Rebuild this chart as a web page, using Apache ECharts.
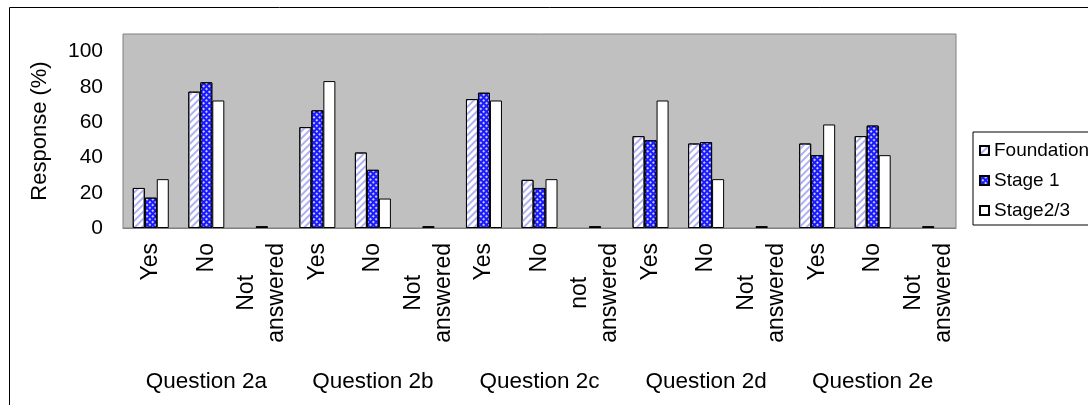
<!DOCTYPE html>
<html>
<head>
<meta charset="utf-8">
<script src="https://cdn.jsdelivr.net/npm/echarts@6/dist/echarts.min.js"></script>
<style>html,body{margin:0;padding:0;background:#fff;}#c{width:1088px;height:405px;}</style>
</head>
<body>
<div id="c"></div>
<script>
var categories = ['Yes','No','Not\nanswered','Yes','No','Not\nanswered','Yes','No','not\nanswered','Yes','No','Not\nanswered','Yes','No','Not\nanswered'];
var groups = ['Question 2a','Question 2b','Question 2c','Question 2d','Question 2e'];
var seriesNames = ['Foundation','Stage 1','Stage2/3'];
var foundation = [22.7,77.3,0, 57.2,42.8,0, 73.1,27.3,0, 52.1,47.9,0, 47.9,52.1,0];
var stage1 = [17.2,82.6,1, 66.7,33.0,1, 76.7,22.7,1, 49.8,48.7,1, 41.3,58.1,1];
var stage23 = [27.7,72.3,0, 83.3,16.7,0, 72.3,27.7,0, 72.3,27.7,0, 58.7,41.3,0];
var yTicks = [0,20,40,60,80,100];

function noZero(arr){ return arr.map(function(v){ return v === 0 ? '-' : v; }); }

var FONT = 'Liberation Sans, Arial, sans-serif';
var chart = echarts.init(document.getElementById('c'), null, {renderer:'canvas'});
var border = {borderColor:'#000', borderWidth:1};
chart.setOption({
  animation:false,
  textStyle:{fontFamily:FONT, color:'#000'},
  graphic:[{type:'rect', shape:{x:9.5,y:7.5,width:1200,height:600}, style:{fill:null, stroke:'#000', lineWidth:1}, silent:true, z:-10}],
  grid:{left:123, right:132, top:34, bottom:177, show:true, backgroundColor:'#c0c0c0', borderColor:'#808080', borderWidth:1},
  legend:{
    orient:'vertical', left:973, top:132, itemWidth:9, itemHeight:9, itemGap:11, icon:'rect',
    padding:[9,40,5,6], borderColor:'#000', borderWidth:1, backgroundColor:'#fff',
    textStyle:{fontSize:19, fontFamily:FONT, color:'#000'},
    data:seriesNames
  },
  xAxis:[{
    type:'category', data:categories, boundaryGap:true,
    axisLine:{show:true, lineStyle:{color:'#808080'}}, axisTick:{show:false},
    axisLabel:{interval:0, rotate:90, margin:15, fontSize:23, fontFamily:FONT, color:'#000',
      formatter:function(v){ return v.indexOf('\n')>=0 ? v.split('\n').map(function(s){return '{c|'+s+'}';}).join('\n') : v; },
      rich:{c:{align:'center', fontSize:23, fontFamily:FONT, color:'#000', lineHeight:30}}
    }
  },{
    type:'category', data:groups, position:'bottom', offset:132, gridIndex:0,
    axisLine:{show:false}, axisTick:{show:false},
    axisLabel:{interval:0, margin:10, fontSize:22.5, fontFamily:FONT, color:'#000'}
  }],
  yAxis:{
    type:'value', min:0, max:110, interval:20,
    name:'Response (%)', nameLocation:'middle', nameGap:72, nameRotate:90,
    nameTextStyle:{fontSize:22, fontFamily:FONT, color:'#000'},
    axisLine:{show:false}, axisTick:{show:false}, splitLine:{show:false},
    axisLabel:{margin:20, fontSize:21, fontFamily:FONT, color:'#000', showMaxLabel:false,
      formatter:function(v){ return yTicks.indexOf(v)>=0 ? String(v) : ''; }}
  },
  series:[
    {name:seriesNames[0], type:'bar', data:noZero(foundation), barWidth:12, barGap:'0%',
     itemStyle:Object.assign({color:'#ffffff', decal:{symbol:'rect', color:'#b0b0f4', dashArrayX:[1,0], dashArrayY:[2,3], rotation:-Math.PI/4}}, border)},
    {name:seriesNames[1], type:'bar', data:noZero(stage1), barWidth:12, barGap:'0%',
     itemStyle:Object.assign({color:'#1a1aff', decal:{symbol:'rect', color:'rgba(255,255,255,0.75)', symbolSize:1, dashArrayX:[2,2], dashArrayY:[2,2], rotation:Math.PI/4}}, border)},
    {name:seriesNames[2], type:'bar', data:noZero(stage23), barWidth:12, barGap:'0%',
     itemStyle:Object.assign({color:'#ffffff'}, border)}
  ]
});
</script>
</body>
</html>
